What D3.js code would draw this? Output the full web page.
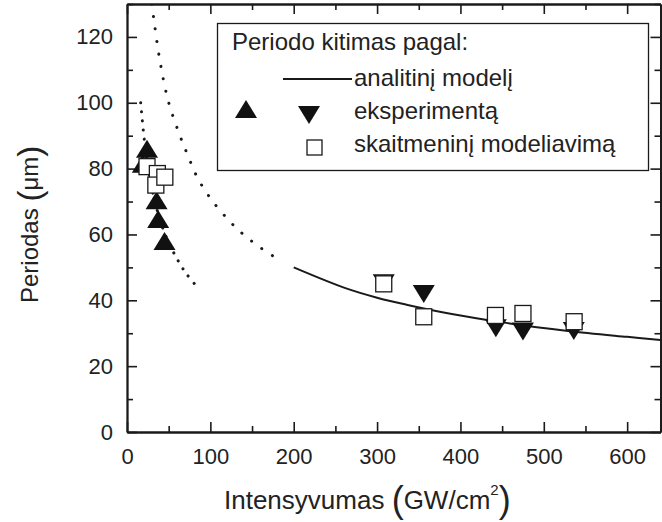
<!DOCTYPE html>
<meta charset='utf-8'>
<style>
    body {
        margin: 0;
        background: #fff;
    }
    text {
        font-family: 'Liberation Sans', Arial, Helvetica, sans-serif;
        fill: #222;
    }
</style>
<body>
<div id='container'></div>
<script src='https://d3js.org/d3.v7.min.js'></script>
<script>
    // Values
    const triUpX = [ 19, 24, 35.5, 37.4, 45 ];
    const triUpY = [ 81.5, 86, 70.4, 64.7, 58 ];

    const triDownX = [ 308, 356, 442.5, 475, 536 ];
    const triDownY = [ 45.2, 41.9, 31.5, 30.5, 30.7 ];

    const squareX = [ 24, 36.4, 34.6, 45.4, 308, 356, 442, 475, 536.4 ];
    const squareY = [ 80.6, 78.5, 75, 77.4, 45, 35, 35.4, 36, 33.5 ];

    // analytic model, solid part
    const modelX = [ 200, 262, 300, 338, 362, 400, 450, 529, 600, 640 ];
    const modelY = [ 50, 43.7, 40.8, 38.5, 37.2, 35.4, 33.3, 30.7, 28.9, 27.95 ];

    // analytic model, dotted continuation to low intensity
    const modelDotX = [ 29.6, 31, 39, 49, 62, 73, 85, 103, 127, 142, 160, 180, 185 ];
    const modelDotY = [ 130, 127.5, 113.5, 101, 91, 84, 77, 70, 63, 59.5, 56, 52.7, 52 ];

    // left dotted curve
    const leftDotX = [ 16.4, 20, 24, 30, 36, 45, 57, 70, 81 ];
    const leftDotY = [ 100, 90.5, 82.5, 74, 67.5, 60.5, 54, 48.5, 45 ];

    const xMajor = [ 0, 100, 200, 300, 400, 500, 600 ];
    const xMinor = [ 50, 150, 250, 350, 450, 550 ];
    const yMajor = [ 0, 20, 40, 60, 80, 100, 120 ];
    const yMinor = [ 10, 30, 50, 70, 90, 110, 130 ];

    const legendTitle = 'Periodo kitimas pagal:';
    const legendLabels = [ 'analitinį modelį', 'eksperimentą', 'skaitmeninį modeliavimą' ];

    const W = 662, H = 522;
    const plot = { left: 127, right: 660.5, top: 4, bottom: 432 };

    let xScale = d3.scaleLinear()
        .domain( [0, 640] )
        .range( [plot.left, plot.right] );
    let yScale = d3.scaleLinear()
        .domain( [0, 130] )
        .range( [plot.bottom, plot.top] );

    let svg = d3.select( '#container' )
        .append( 'svg' )
        .attr( 'width', W )
        .attr( 'height', H );

    svg.append( 'clipPath' )
        .attr( 'id', 'plotClip' )
        .append( 'rect' )
            .attr( 'x', plot.left )
            .attr( 'y', plot.top )
            .attr( 'width', plot.right - plot.left )
            .attr( 'height', plot.bottom - plot.top );

    const major = 10, minor = 6;

    const styleAxis = g => {
        g.select( '.domain' ).attr( 'stroke', '#1a1a1a' ).attr( 'stroke-width', 1.8 );
        g.selectAll( '.tick line' ).attr( 'stroke', '#1a1a1a' ).attr( 'stroke-width', 1.6 );
        g.selectAll( '.tick text' ).style( 'font-size', '22px' ).attr( 'fill', '#222' );
    };

    // bottom
    svg.append( 'g' )
        .attr( 'transform', `translate( 0, ${plot.bottom} )` )
        .call( d3.axisBottom( xScale ).tickValues( xMajor ).tickSize( -major ).tickSizeOuter( 0 ).tickPadding( 16 ) )
        .call( styleAxis );
    svg.append( 'g' )
        .attr( 'transform', `translate( 0, ${plot.bottom} )` )
        .call( d3.axisBottom( xScale ).tickValues( xMinor ).tickSize( -minor ).tickSizeOuter( 0 ).tickFormat( '' ) )
        .call( styleAxis );

    // top
    svg.append( 'g' )
        .attr( 'transform', `translate( 0, ${plot.top} )` )
        .call( d3.axisTop( xScale ).tickValues( xMajor ).tickSize( -major ).tickSizeOuter( 0 ).tickFormat( '' ) )
        .call( styleAxis );
    svg.append( 'g' )
        .attr( 'transform', `translate( 0, ${plot.top} )` )
        .call( d3.axisTop( xScale ).tickValues( xMinor ).tickSize( -minor ).tickSizeOuter( 0 ).tickFormat( '' ) )
        .call( styleAxis );

    // left
    svg.append( 'g' )
        .attr( 'transform', `translate( ${plot.left}, 0 )` )
        .call( d3.axisLeft( yScale ).tickValues( yMajor ).tickSize( -major ).tickSizeOuter( 0 ).tickPadding( 14 ) )
        .call( styleAxis );
    svg.append( 'g' )
        .attr( 'transform', `translate( ${plot.left}, 0 )` )
        .call( d3.axisLeft( yScale ).tickValues( yMinor ).tickSize( -minor ).tickSizeOuter( 0 ).tickFormat( '' ) )
        .call( styleAxis );

    // right
    svg.append( 'g' )
        .attr( 'transform', `translate( ${plot.right}, 0 )` )
        .call( d3.axisRight( yScale ).tickValues( yMajor ).tickSize( -major ).tickSizeOuter( 0 ).tickFormat( '' ) )
        .call( styleAxis );
    svg.append( 'g' )
        .attr( 'transform', `translate( ${plot.right}, 0 )` )
        .call( d3.axisRight( yScale ).tickValues( yMinor ).tickSize( -minor ).tickSizeOuter( 0 ).tickFormat( '' ) )
        .call( styleAxis );

    // axis titles, Origin style with tall parentheses
    const xTitle = svg.append( 'text' )
        .attr( 'x', 224 )
        .attr( 'y', 509 )
        .style( 'font-size', '26px' );
    xTitle.append( 'tspan' ).text( 'Intensyvumas ' );
    xTitle.append( 'tspan' ).style( 'font-size', '36px' ).style( 'font-weight', 300 ).attr( 'dy', 3 ).text( '(' );
    xTitle.append( 'tspan' ).attr( 'dy', -3 ).text( 'GW/cm' );
    xTitle.append( 'tspan' ).style( 'font-size', '15px' ).attr( 'dy', -14 ).text( '2' );
    xTitle.append( 'tspan' ).style( 'font-size', '36px' ).attr( 'dy', 17 ).text( ')' );

    const yTitle = svg.append( 'text' )
        .attr( 'transform', 'translate( 38, 303 ) rotate( -90 )' )
        .style( 'font-size', '24px' );
    yTitle.append( 'tspan' ).text( 'Periodas ' );
    yTitle.append( 'tspan' ).style( 'font-size', '33px' ).attr( 'dy', 3 ).text( '(' );
    yTitle.append( 'tspan' ).attr( 'dy', -3 ).text( 'μm' );
    yTitle.append( 'tspan' ).style( 'font-size', '33px' ).attr( 'dy', 3 ).text( ')' );

    // curves
    const zip = ( xs, ys ) => xs.map( ( x, i ) => [ x, ys[ i ] ] );
    const line = d3.line()
        .x( d => xScale( d[0] ) )
        .y( d => yScale( d[1] ) )
        .curve( d3.curveCatmullRom );

    let curves = svg.append( 'g' ).attr( 'clip-path', 'url(#plotClip)' );

    curves.append( 'path' )
        .datum( zip( modelX, modelY ) )
        .attr( 'd', line )
        .attr( 'fill', 'none' )
        .attr( 'stroke', '#1a1a1a' )
        .attr( 'stroke-width', 2 );

    const dotted = ( pts, gap ) => {
        curves.append( 'path' )
            .datum( pts )
            .attr( 'd', line )
            .attr( 'fill', 'none' )
            .attr( 'stroke', '#1a1a1a' )
            .attr( 'stroke-width', 3 )
            .attr( 'stroke-linecap', 'round' )
            .attr( 'stroke-dasharray', `0.1 ${gap}` );
    };
    dotted( zip( modelDotX, modelDotY ), 12.5 );
    dotted( zip( leftDotX, leftDotY ), 9 );

    // markers
    const triW = 22, triH = 18, sq = 16;
    const triUp = ( cx, cy ) => `M${cx},${cy - triH / 2}L${cx + triW / 2},${cy + triH / 2}L${cx - triW / 2},${cy + triH / 2}Z`;
    const triDown = ( cx, cy ) => `M${cx},${cy + triH / 2}L${cx + triW / 2},${cy - triH / 2}L${cx - triW / 2},${cy - triH / 2}Z`;

    let marks = svg.append( 'g' );

    marks.selectAll( '.up' )
        .data( zip( triUpX, triUpY ) )
        .enter().append( 'path' )
            .attr( 'class', 'up' )
            .attr( 'd', d => triUp( xScale( d[0] ), yScale( d[1] ) ) )
            .attr( 'fill', '#111' );

    marks.selectAll( '.down' )
        .data( zip( triDownX, triDownY ) )
        .enter().append( 'path' )
            .attr( 'class', 'down' )
            .attr( 'd', d => triDown( xScale( d[0] ), yScale( d[1] ) ) )
            .attr( 'fill', '#111' );

    marks.selectAll( '.sq' )
        .data( zip( squareX, squareY ) )
        .enter().append( 'rect' )
            .attr( 'class', 'sq' )
            .attr( 'x', d => xScale( d[0] ) - sq / 2 )
            .attr( 'y', d => yScale( d[1] ) - sq / 2 )
            .attr( 'width', sq )
            .attr( 'height', sq )
            .attr( 'fill', '#fff' )
            .attr( 'stroke', '#1a1a1a' )
            .attr( 'stroke-width', 1.3 );

    // legend
    let legend = svg.append( 'g' );
    legend.append( 'rect' )
        .attr( 'x', 217.5 )
        .attr( 'y', 23.5 )
        .attr( 'width', 431 )
        .attr( 'height', 147 )
        .attr( 'fill', '#fff' )
        .attr( 'stroke', '#1a1a1a' )
        .attr( 'stroke-width', 1.3 );

    legend.append( 'text' )
        .attr( 'x', 232 )
        .attr( 'y', 50 )
        .style( 'font-size', '24px' )
        .text( legendTitle );

    legend.selectAll( '.label' )
        .data( legendLabels )
        .enter().append( 'text' )
            .attr( 'class', 'label' )
            .attr( 'x', 354 )
            .attr( 'y', ( d, i ) => 86 + i * 33 )
            .style( 'font-size', '24px' )
            .text( d => d );

    legend.append( 'line' )
        .attr( 'x1', 283 ).attr( 'x2', 352 )
        .attr( 'y1', 79 ).attr( 'y2', 79 )
        .attr( 'stroke', '#1a1a1a' )
        .attr( 'stroke-width', 2 );
    legend.append( 'path' ).attr( 'd', triUp( 246, 109 ) ).attr( 'fill', '#111' );
    legend.append( 'path' ).attr( 'd', triDown( 309, 115 ) ).attr( 'fill', '#111' );
    legend.append( 'rect' )
        .attr( 'x', 307 ).attr( 'y', 140 )
        .attr( 'width', 15 ).attr( 'height', 15 )
        .attr( 'fill', '#fff' )
        .attr( 'stroke', '#1a1a1a' )
        .attr( 'stroke-width', 1.3 );
</script>
</body>
